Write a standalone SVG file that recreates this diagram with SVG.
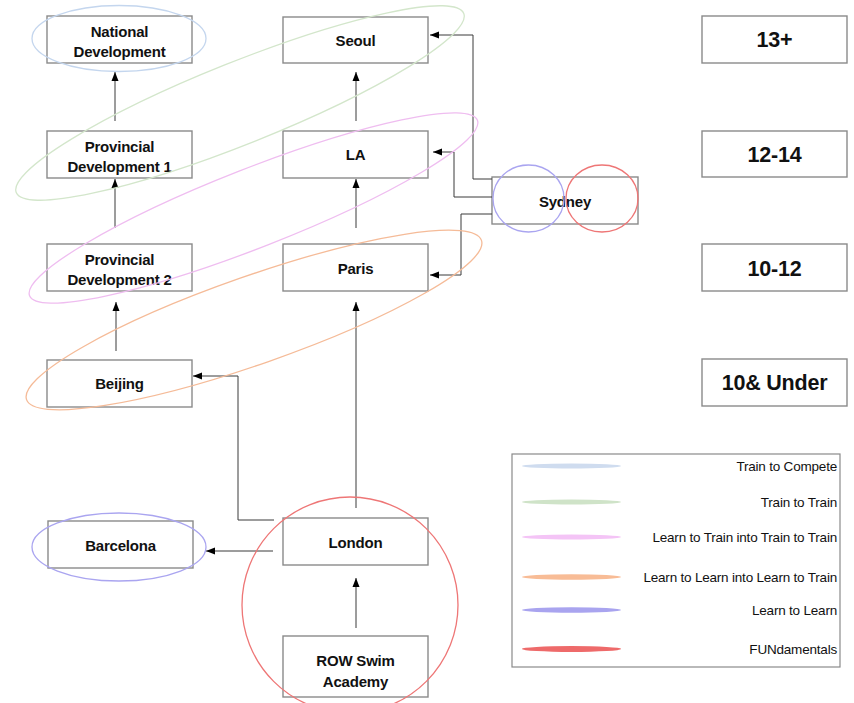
<svg xmlns="http://www.w3.org/2000/svg" width="854" height="703" viewBox="0 0 854 703">
<style>
.box{fill:#fff;stroke:#8a8a8a;stroke-width:1.4}
.t{font-family:"Liberation Sans",Arial,sans-serif;font-weight:bold;font-size:15px;fill:#111;text-anchor:middle;letter-spacing:-0.2px}
.big{font-family:"Liberation Sans",Arial,sans-serif;font-weight:bold;font-size:21.5px;fill:#111;text-anchor:middle;letter-spacing:-0.2px}
.lg{font-family:"Liberation Sans",Arial,sans-serif;font-size:13.5px;fill:#111;text-anchor:end;letter-spacing:-0.2px}
.c{fill:none;stroke:#3a3a3a;stroke-width:1;marker-end:url(#ah)}
.ring{fill:none;stroke-width:1.3}
</style>
<defs>
<marker id="ah" markerUnits="userSpaceOnUse" markerWidth="10" markerHeight="8" viewBox="0 0 10 8" refX="9" refY="4" orient="auto">
<path d="M0,0.5 L9,4 L0,7.5 Z" fill="#000"/>
</marker>
</defs>
<rect width="854" height="703" fill="#fff"/>

<g id="national"><rect class="box" x="47" y="16" width="145" height="47"/><text class="t" x="119.5" y="37">National</text><text class="t" x="119.5" y="57">Development</text></g>
<g id="prov1"><rect class="box" x="47" y="131" width="145" height="47"/><text class="t" x="119.5" y="152">Provincial</text><text class="t" x="119.5" y="172">Development 1</text></g>
<g id="prov2"><rect class="box" x="47" y="244" width="145" height="47"/><text class="t" x="119.5" y="265">Provincial</text><text class="t" x="119.5" y="285">Development 2</text></g>
<g id="beijing"><rect class="box" x="47" y="360" width="145" height="47"/><text class="t" x="119.5" y="389">Beijing</text></g>
<g id="barcelona"><rect class="box" x="48" y="521" width="145" height="47"/><text class="t" x="120.5" y="551">Barcelona</text></g>
<g id="seoul"><rect class="box" x="283" y="17" width="145" height="46"/><text class="t" x="355.5" y="46">Seoul</text></g>
<g id="la"><rect class="box" x="283" y="131" width="145" height="47"/><text class="t" x="355.5" y="160">LA</text></g>
<g id="paris"><rect class="box" x="283" y="244" width="145" height="47"/><text class="t" x="355.5" y="274">Paris</text></g>
<g id="london"><rect class="box" x="283" y="518" width="145" height="47"/><text class="t" x="355.5" y="548">London</text></g>
<g id="row"><rect class="box" x="283" y="636" width="145" height="61"/><text class="t" x="355.5" y="666">ROW Swim</text><text class="t" x="355.5" y="687">Academy</text></g>
<g id="sydney"><rect class="box" x="492" y="177" width="146" height="47"/><text class="t" x="565" y="207">Sydney</text></g>
<g id="age13"><rect class="box" x="702" y="16" width="145" height="47"/><text class="big" x="774.5" y="47">13+</text></g>
<g id="age1214"><rect class="box" x="702" y="131" width="145" height="46"/><text class="big" x="774.5" y="162">12-14</text></g>
<g id="age1012"><rect class="box" x="702" y="244" width="145" height="47"/><text class="big" x="774.5" y="276">10-12</text></g>
<g id="age10"><rect class="box" x="702" y="359" width="145" height="47"/><text class="big" x="774.5" y="390">10&amp; Under</text></g>

<g id="connectors">
<path class="c" d="M115 121 V72"/>
<path class="c" d="M115 228 V179"/>
<path class="c" d="M116 351 V302"/>
<path class="c" d="M356 121 V72"/>
<path class="c" d="M356 228 V179"/>
<path class="c" d="M356 508 V302"/>
<path class="c" d="M356 628 V578"/>
<path class="c" d="M274 520 H238 V376 H193"/>
<path class="c" d="M273 551 H206"/>
<path class="c" d="M492 179 H473 V35 H430"/>
<path class="c" d="M492 197 H454 V152 H433"/>
<path class="c" d="M492 214 H461 V275 H430"/>
</g>

<g id="groupings">
<ellipse class="ring" stroke="#c4d6ee" cx="119" cy="38.5" rx="87" ry="33"/>
<ellipse class="ring" stroke="#d3e6cb" cx="240" cy="103" rx="241" ry="41" transform="rotate(-21.8 240 103)"/>
<ellipse class="ring" stroke="#efbdf0" cx="253.5" cy="208" rx="240.5" ry="39.6" transform="rotate(-21.4 253.5 208)"/>
<ellipse class="ring" stroke="#f5bb98" cx="254" cy="320" rx="241" ry="44" transform="rotate(-19.3 254 320)"/>
<ellipse class="ring" stroke="#aaa5f0" cx="119" cy="547" rx="87" ry="34"/>
<circle class="ring" stroke="#ee7676" cx="350" cy="605" r="108"/>
<ellipse class="ring" stroke="#aaa5f0" cx="528.5" cy="198.5" rx="35.5" ry="33.5"/>
<ellipse class="ring" stroke="#ee7676" cx="602" cy="198.5" rx="36" ry="33.5"/>
</g>

<g id="legend">
<rect x="512" y="454" width="328" height="213" fill="#fff" stroke="#8a8a8a" stroke-width="1.2"/>
<ellipse cx="571.5" cy="466" rx="49.5" ry="2.5" fill="#cfdcef"/>
<text class="lg" x="837" y="471">Train to Compete</text>
<ellipse cx="571.5" cy="502" rx="49.5" ry="2.5" fill="#cfe3c8"/>
<text class="lg" x="837" y="507">Train to Train</text>
<ellipse cx="571.5" cy="537" rx="49.5" ry="2.5" fill="#f4c4f6"/>
<text class="lg" x="837" y="542">Learn to Train into Train to Train</text>
<ellipse cx="571.5" cy="577" rx="49.5" ry="2.7" fill="#f8bc96"/>
<text class="lg" x="837" y="582">Learn to Learn into Learn to Train</text>
<ellipse cx="571.5" cy="610" rx="49.5" ry="2.7" fill="#a9a4ef"/>
<text class="lg" x="837" y="615">Learn to Learn</text>
<ellipse cx="571.5" cy="649" rx="49.5" ry="3" fill="#ee6a6a"/>
<text class="lg" x="837" y="654">FUNdamentals</text>
</g>
</svg>
